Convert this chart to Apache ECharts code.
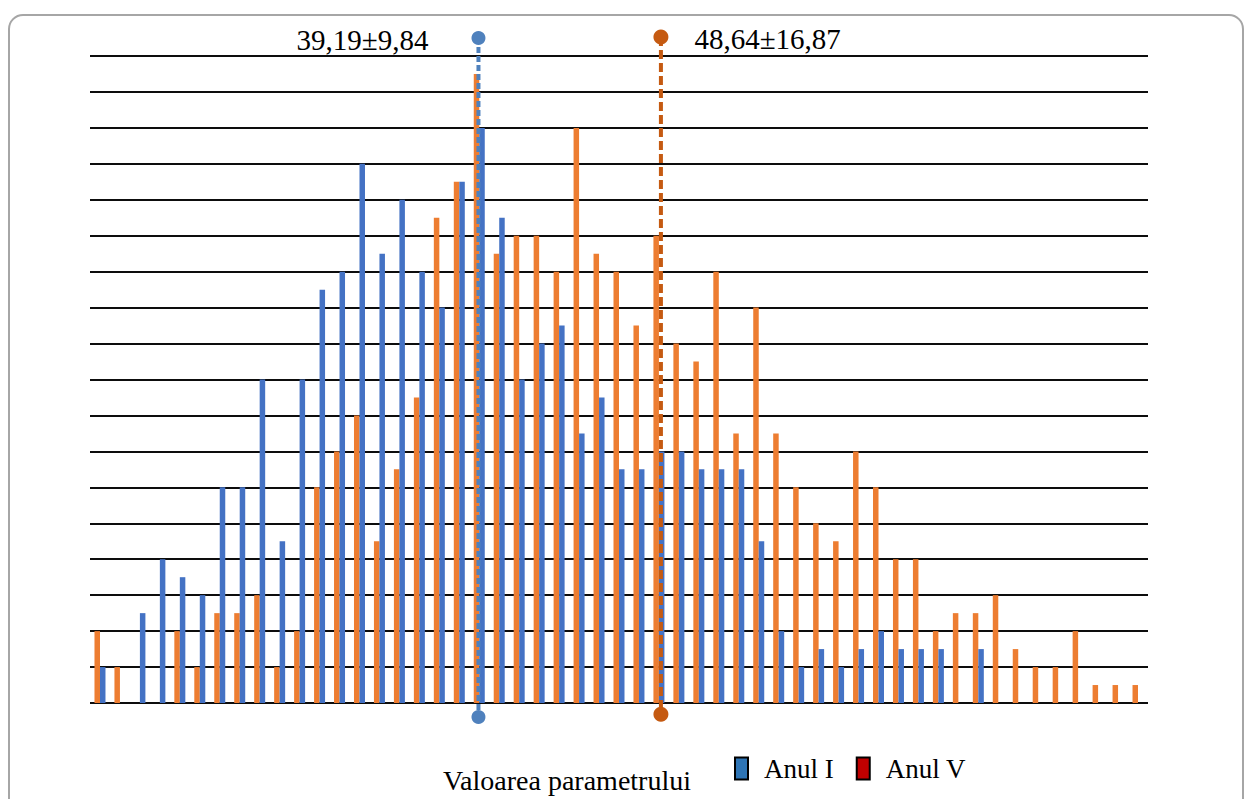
<!DOCTYPE html>
<html>
<head>
<meta charset="utf-8">
<script src="https://cdn.jsdelivr.net/npm/echarts@6/dist/echarts.min.js"></script>
<style>
html,body{margin:0;padding:0;background:#fff;}
#chart{width:1247px;height:799px;}
</style>
</head>
<body>
<div id="chart"></div>
<script>
// ---- data ----
const binCount = 53;
const categories = Array.from({length: binCount}, (_, i) => 'B' + (i + 1));
const anulV = [2,1,0,0,2,1,2.5,2.5,3,1,2,6,7,8,4.5,6.5,8.5,13.5,14.5,17.5,12.5,13,13,12,16,12.5,12,10.5,13,10,9.5,12,7.5,11,7.5,6,5,4.5,7,6,4,4,2,2.5,2.5,3,1.5,1,1,2,0.5,0.5,0.5];
const anulI = [1,0,2.5,4,3.5,3,6,6,9,4.5,9,11.5,12,15,12.5,14,12,11,14.5,16,13.5,9,10,10.5,7.5,8.5,6.5,6.5,7,7,6.5,6.5,6.5,4.5,2,1,1.5,1,1.5,2,1.5,1.5,1.5,0,1.5,0,0,0,0,0,0,0,0];
const seriesNames = ['Anul I', 'Anul V'];
const meanLabels = ['39,19±9,84', '48,64±16,87'];
const meanBinPos = [18.96, 28.1];      // position of the mean markers, in bin-index units
const markerSpanI = [18.5, -0.39];     // vertical extent of marker lines (y units)
const markerSpanV = [18.53, -0.31];
const axisTitle = 'Valoarea parametrului';
const yMax = 18;

const SERIF = '"Liberation Serif","Times New Roman",serif';
const chart = echarts.init(document.getElementById('chart'), null, {renderer: 'svg'});

const option = {
  animation: false,
  backgroundColor: '#fff',
  grid: {left: 90, right: 99, top: 56, bottom: 96, containLabel: false},
  legend: {
    left: 734, top: 755, padding: 0,
    itemWidth: 13, itemHeight: 22, itemGap: 22,
    icon: 'rect',
    selectedMode: false,
    itemStyle: {borderColor: '#000', borderWidth: 2},
    textStyle: {fontFamily: SERIF, fontSize: 27, color: '#000', padding: [0, 0, 0, 11]},
    data: [
      {name: seriesNames[0], itemStyle: {color: '#2e75b6', borderColor: '#000', borderWidth: 2}},
      {name: seriesNames[1], itemStyle: {color: '#c00000', borderColor: '#000', borderWidth: 2}}
    ]
  },
  xAxis: [
    {type: 'category', data: categories, axisLine: {show: false}, axisTick: {show: false},
     axisLabel: {show: false}, splitLine: {show: false}},
    {type: 'value', min: -0.5, max: binCount - 0.5, show: false}
  ],
  yAxis: {
    type: 'value', min: 0, max: yMax, interval: 1,
    axisLine: {show: false}, axisTick: {show: false}, axisLabel: {show: false},
    splitLine: {show: true, lineStyle: {color: '#0d0d0d', width: 2}}
  },
  graphic: [
    {type: 'rect', silent: true, z: -1,
     shape: {x: 9, y: 15, width: 1234, height: 820, r: 14},
     style: {fill: 'none', stroke: '#a6a6a6', lineWidth: 2}},
    {type: 'text', silent: true, left: 443, top: 766,
     style: {text: axisTitle, font: '28px ' + SERIF, fill: '#000'}}
  ],
  series: [
    {name: seriesNames[1], type: 'bar', data: anulV, barWidth: 5.5, barGap: '0%',
     itemStyle: {color: '#ed7d31'}},
    {name: seriesNames[0], type: 'bar', data: anulI, barWidth: 5.5, barGap: '0%',
     itemStyle: {color: '#4472c4'}},
    {name: 'meanI', type: 'line', xAxisIndex: 1, yAxisIndex: 0, clip: false, z: 5,
     symbol: 'circle', symbolSize: 14,
     lineStyle: {color: '#4f81bd', width: 4, type: [6, 3]},
     itemStyle: {color: '#4f81bd'},
     data: [
       {value: [meanBinPos[0], markerSpanI[0]],
        label: {show: true, position: 'left', distance: 43, formatter: meanLabels[0],
                fontFamily: SERIF, fontSize: 29, color: '#000', offset: [0, 2]}},
       {value: [meanBinPos[0], markerSpanI[1]]}
     ]},
    {name: 'meanV', type: 'line', xAxisIndex: 1, yAxisIndex: 0, clip: false, z: 5,
     symbol: 'circle', symbolSize: 15,
     lineStyle: {color: '#c55a11', width: 4, type: [9, 4]},
     itemStyle: {color: '#c55a11'},
     data: [
       {value: [meanBinPos[1], markerSpanV[0]],
        label: {show: true, position: 'right', distance: 26, formatter: meanLabels[1],
                fontFamily: SERIF, fontSize: 29, color: '#000', offset: [0, 2]}},
       {value: [meanBinPos[1], markerSpanV[1]]}
     ]}
  ]
};
chart.setOption(option);
</script>
</body>
</html>
